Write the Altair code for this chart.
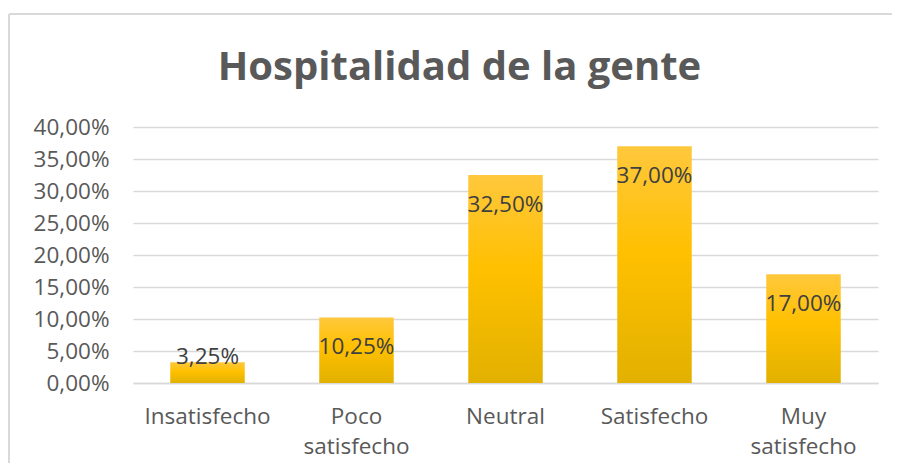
import altair as alt
import pandas as pd

categories = ["Insatisfecho", "Poco satisfecho", "Neutral", "Satisfecho", "Muy satisfecho"]
values = [0.0325, 0.1025, 0.325, 0.37, 0.17]
y_ticks = [0, 0.05, 0.1, 0.15, 0.2, 0.25, 0.3, 0.35, 0.4]
title_text = "Hospitalidad de la gente"

df = pd.DataFrame({"cat": categories, "v": values})

W, H = 745, 256
FONT = "Open Sans"
FS = 22.5

x_axis = alt.Axis(labelAngle=0, labelFont=FONT, labelFontSize=FS,
                  labelColor="#595959", labelPadding=22,
                  labelExpr="split(datum.label, ' ')",
                  labelLineHeight=30, ticks=False,
                  domainColor="#d9d9d9", domainWidth=1.5)
x_scale = alt.Scale(paddingInner=0.5, paddingOuter=0.25)

y_axis = alt.Axis(values=y_ticks, labelOverlap=False,
                  labelExpr="replace(format(datum.value, '.2%'), '.', ',')",
                  labelFont=FONT, labelFontSize=FS, labelColor="#595959",
                  labelPadding=24, ticks=False, domain=False,
                  gridColor="#d9d9d9", gridWidth=1.5)
y_scale = alt.Scale(domain=[0, 0.4])

bars = alt.Chart(df).mark_bar(
    color=alt.Gradient(gradient="linear", x1=0, y1=0, x2=0, y2=1,
                       stops=[alt.GradientStop(color="#ffc83d", offset=0),
                              alt.GradientStop(color="#ffc000", offset=0.45),
                              alt.GradientStop(color="#e2b100", offset=1)])
).encode(
    x=alt.X("cat:N", sort=categories, title=None, scale=x_scale, axis=x_axis),
    y=alt.Y("v:Q", title=None, scale=y_scale, axis=y_axis),
)

labels = alt.Chart(df).transform_calculate(
    txt="replace(format(datum.v, '.2%'), '.', ',')",
    ly="max(datum.v, 0.0875)"
).mark_text(font=FONT, fontSize=FS, color="#404040", baseline="middle", dy=30).encode(
    x=alt.X("cat:N", sort=categories, title=None, scale=x_scale, axis=x_axis),
    y=alt.Y("ly:Q", title=None, scale=y_scale, axis=y_axis),
    text="txt:N",
)

border_top = alt.Chart(alt.Data(values=[{}])).mark_rule(
    stroke="#d9d9d9", strokeWidth=2
).encode(x=alt.value(-124), x2=alt.value(W + 300), y=alt.value(-113))

border_left = alt.Chart(alt.Data(values=[{}])).mark_rule(
    stroke="#d9d9d9", strokeWidth=2
).encode(x=alt.value(-124), y=alt.value(-113), y2=alt.value(H + 200))

chart = alt.layer(border_top, border_left, bars, labels).properties(
    width=W, height=H,
    title=alt.TitleParams(title_text, font=FONT, fontSize=40, fontWeight="bold",
                          color="#595959", anchor="middle", frame="group",
                          dx=-46, offset=-107, baseline="alphabetic"),
    autosize=alt.AutoSizeParams(type="none"),
    padding={"left": 125, "top": 119, "right": 14, "bottom": 80},
    background="white",
).configure_view(stroke=None)

chart.save("out.html", embed_options={"renderer": "svg", "actions": False})
